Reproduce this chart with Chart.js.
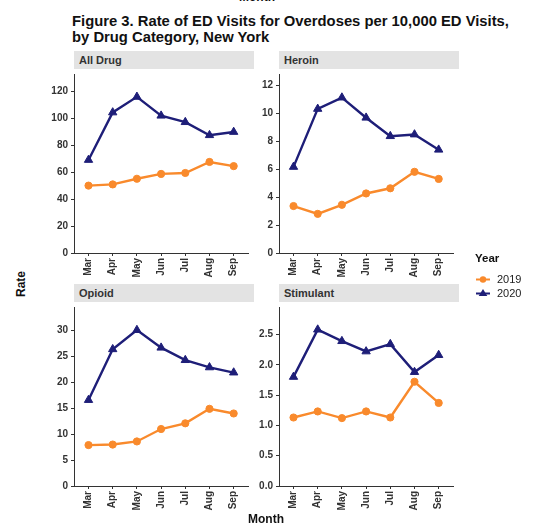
<!DOCTYPE html>
<html>
<head>
<meta charset="utf-8">
<script src="https://cdn.jsdelivr.net/npm/chart.js@4"></script>
<style>
  html, body { margin: 0; padding: 0; background: #fff; }
  body { position: relative; width: 535px; height: 523px; overflow: hidden;
         font-family: "Liberation Sans", Arial, sans-serif; color: #222; }
  .abs { position: absolute; white-space: nowrap; }
  .strip { position: absolute; width: 180px; height: 18px; background: #e3e3e3;
           font-weight: bold; font-size: 11px; line-height: 18px; color: #333;
           padding-left: 5px; box-sizing: border-box; }
  canvas { position: absolute; }
  .title { left: 72px; top: 14px; font-weight: bold; font-size: 14.8px; line-height: 15.5px; color: #111; }
  .axisTitle { font-weight: bold; font-size: 12px; line-height: 12px; color: #111; }
  .legTitle { left: 475px; top: 252px; font-weight: bold; font-size: 11.5px; line-height: 12px; color: #111; }
  .legItem { left: 497px; font-size: 11px; line-height: 12px; color: #222; }
</style>
</head>
<body>

<div class="abs axisTitle" style="left:239px; top:-9px;">Month</div>
<div class="abs title">Figure 3. Rate of ED Visits for Overdoses per 10,000 ED Visits,<br>by Drug Category, New York</div>

<div class="strip" style="left:74px; top:51px;">All Drug</div>
<div class="strip" style="left:279px; top:51px;">Heroin</div>
<div class="strip" style="left:74px; top:284px;">Opioid</div>
<div class="strip" style="left:279px; top:284px;">Stimulant</div>

<canvas id="cAll" width="224" height="214" style="left:30px; top:69px;"></canvas>
<canvas id="cHeroin" width="224" height="214" style="left:235px; top:69px;"></canvas>
<canvas id="cOpioid" width="224" height="214" style="left:30px; top:302px;"></canvas>
<canvas id="cStim" width="224" height="214" style="left:235px; top:302px;"></canvas>

<div class="abs axisTitle" style="left:6px; top:276px; transform: rotate(-90deg); transform-origin: 15px 6px;">Rate</div>
<div class="abs axisTitle" style="left:248px; top:513px;">Month</div>

<div class="abs legTitle">Year</div>
<svg class="abs" style="left:475px; top:272px;" width="18" height="30">
  <line x1="1" y1="7.5" x2="15" y2="7.5" stroke="#f98a2c" stroke-width="2"/>
  <circle cx="8" cy="7.5" r="3.2" fill="#f98a2c"/>
  <line x1="1" y1="21.5" x2="15" y2="21.5" stroke="#1e1e78" stroke-width="2"/>
  <polygon points="8,17 12.3,24 3.7,24" fill="#1e1e78"/>
</svg>
<div class="abs legItem" style="top:273px;">2019</div>
<div class="abs legItem" style="top:287px;">2020</div>

<script>
// Months on the x axis and the two comparison years
const months = ['Mar', 'Apr', 'May', 'Jun', 'Jul', 'Aug', 'Sep'];
const years = ['2019', '2020'];

// Rate of ED visits per 10,000 ED visits, by drug category
const allDrug2019   = [50.1, 51.0, 55.2, 58.8, 59.5, 67.7, 64.6];
const allDrug2020   = [69.2, 104.5, 116.1, 102.1, 97.3, 87.6, 90.0];
const heroin2019    = [3.36, 2.80, 3.45, 4.26, 4.63, 5.81, 5.30];
const heroin2020    = [6.16, 10.31, 11.12, 9.68, 8.36, 8.48, 7.39];
const opioid2019    = [7.9, 8.0, 8.6, 11.0, 12.1, 14.9, 14.0];
const opioid2020    = [16.6, 26.4, 30.1, 26.7, 24.3, 22.9, 21.9];
const stimulant2019 = [1.13, 1.23, 1.12, 1.23, 1.13, 1.72, 1.37];
const stimulant2020 = [1.80, 2.58, 2.39, 2.22, 2.34, 1.88, 2.16];

// Y-axis tick values for each panel
const allDrugTicks   = [0, 20, 40, 60, 80, 100, 120];
const heroinTicks    = [0, 2, 4, 6, 8, 10, 12];
const opioidTicks    = [0, 5, 10, 15, 20, 25, 30];
const stimulantTicks = [0, 0.5, 1.0, 1.5, 2.0, 2.5];

const COLOR_2019 = '#f98a2c';
const COLOR_2020 = '#1e1e78';
const AXIS_COLOR = '#333333';
const TICK_FONT = { family: '"Liberation Sans", Arial, sans-serif', size: 10, weight: 'bold' };

function toPoints(values) {
  return values.map((v, i) => ({ x: i, y: v }));
}

function noPadding(scale) {
  scale.paddingLeft = 0;
  scale.paddingRight = 0;
  scale.paddingTop = 0;
  scale.paddingBottom = 0;
}

function makePanel(id, s2019, s2020, yTicks, yMax, decimals) {
  new Chart(document.getElementById(id), {
    type: 'line',
    data: {
      datasets: [
        {
          label: years[0], data: toPoints(s2019),
          borderColor: COLOR_2019, backgroundColor: COLOR_2019,
          borderWidth: 2.4, pointStyle: 'circle', pointRadius: 3.6,
          pointBorderWidth: 1, tension: 0
        },
        {
          label: years[1], data: toPoints(s2020),
          borderColor: COLOR_2020, backgroundColor: COLOR_2020,
          borderWidth: 2.4, pointStyle: 'triangle', pointRadius: 4.8,
          pointBorderWidth: 1, tension: 0
        }
      ]
    },
    options: {
      responsive: false,
      animation: false,
      events: [],
      layout: { padding: 0 },
      plugins: { legend: { display: false }, tooltip: { enabled: false } },
      scales: {
        x: {
          type: 'linear', min: -0.6, max: 6.6,
          grid: { display: true, drawOnChartArea: false, drawTicks: true, tickLength: 3, color: AXIS_COLOR },
          border: { display: true, color: AXIS_COLOR, width: 1 },
          ticks: {
            autoSkip: false, minRotation: 90, maxRotation: 90, padding: 2,
            color: '#333', font: TICK_FONT,
            callback: (v) => months[v]
          },
          afterBuildTicks: (s) => { s.ticks = months.map((m, i) => ({ value: i })); },
          afterFit: (s) => { s.height = 30; noPadding(s); }
        },
        y: {
          type: 'linear', min: 0, max: yMax,
          grid: { display: true, drawOnChartArea: false, drawTicks: true, tickLength: 3, color: AXIS_COLOR },
          border: { display: true, color: AXIS_COLOR, width: 1 },
          ticks: {
            padding: 3, color: '#333', font: TICK_FONT,
            callback: (v) => Number(v).toFixed(decimals)
          },
          afterBuildTicks: (s) => { s.ticks = yTicks.map((v) => ({ value: v })); },
          afterFit: (s) => { s.width = 44; noPadding(s); }
        }
      }
    }
  });
}

makePanel('cAll', allDrug2019, allDrug2020, allDrugTicks, 132.5, 0);
makePanel('cHeroin', heroin2019, heroin2020, heroinTicks, 12.75, 0);
makePanel('cOpioid', opioid2019, opioid2020, opioidTicks, 34.4, 0);
makePanel('cStim', stimulant2019, stimulant2020, stimulantTicks, 2.94, 1);
</script>
</body>
</html>
